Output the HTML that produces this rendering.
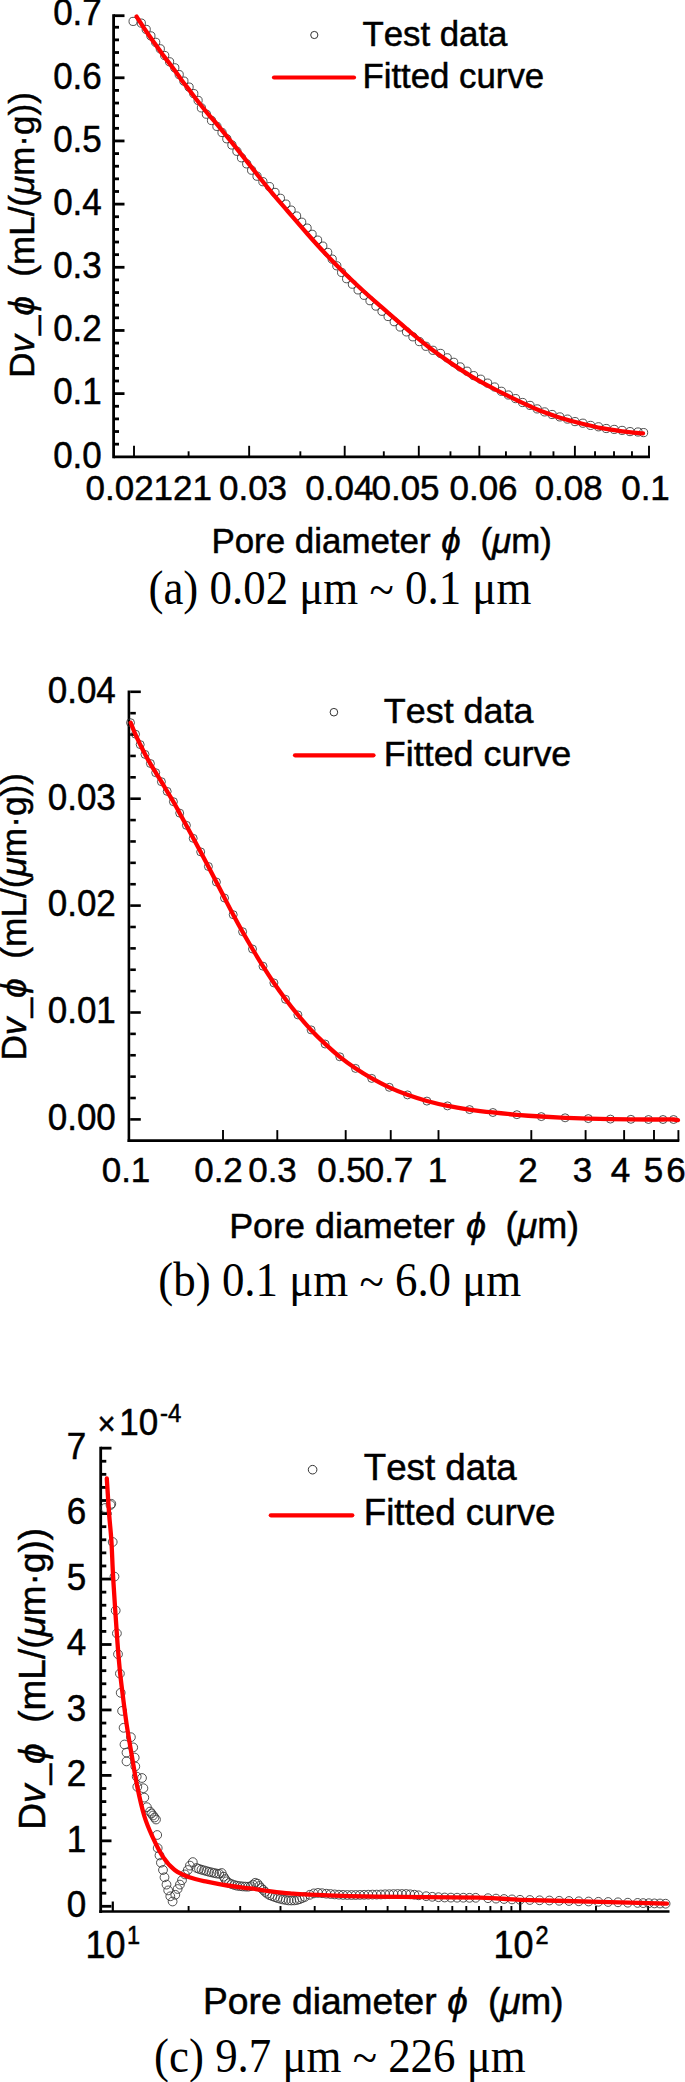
<!DOCTYPE html>
<html lang="en"><head><meta charset="utf-8"><title>Pore size distribution fitting</title>
<style>html,body{margin:0;padding:0;background:#fff}svg{display:block}text{font-kerning:none}</style></head>
<body>
<svg width="685" height="2082" viewBox="0 0 685 2082">
<rect width="685" height="2082" fill="#ffffff"/>
<line x1="113.60" y1="14.30" x2="113.60" y2="458.20" stroke="#000" stroke-width="2.8" stroke-linecap="butt"/>
<line x1="113.60" y1="456.80" x2="650.00" y2="456.80" stroke="#000" stroke-width="2.8" stroke-linecap="butt"/>
<line x1="113.60" y1="444.17" x2="119.00" y2="444.17" stroke="#000" stroke-width="2.8" stroke-linecap="butt"/>
<line x1="113.60" y1="431.53" x2="119.00" y2="431.53" stroke="#000" stroke-width="2.8" stroke-linecap="butt"/>
<line x1="113.60" y1="418.90" x2="119.00" y2="418.90" stroke="#000" stroke-width="2.8" stroke-linecap="butt"/>
<line x1="113.60" y1="406.26" x2="119.00" y2="406.26" stroke="#000" stroke-width="2.8" stroke-linecap="butt"/>
<line x1="113.60" y1="393.63" x2="124.50" y2="393.63" stroke="#000" stroke-width="2.8" stroke-linecap="butt"/>
<line x1="113.60" y1="381.00" x2="119.00" y2="381.00" stroke="#000" stroke-width="2.8" stroke-linecap="butt"/>
<line x1="113.60" y1="368.36" x2="119.00" y2="368.36" stroke="#000" stroke-width="2.8" stroke-linecap="butt"/>
<line x1="113.60" y1="355.73" x2="119.00" y2="355.73" stroke="#000" stroke-width="2.8" stroke-linecap="butt"/>
<line x1="113.60" y1="343.09" x2="119.00" y2="343.09" stroke="#000" stroke-width="2.8" stroke-linecap="butt"/>
<line x1="113.60" y1="330.46" x2="124.50" y2="330.46" stroke="#000" stroke-width="2.8" stroke-linecap="butt"/>
<line x1="113.60" y1="317.83" x2="119.00" y2="317.83" stroke="#000" stroke-width="2.8" stroke-linecap="butt"/>
<line x1="113.60" y1="305.19" x2="119.00" y2="305.19" stroke="#000" stroke-width="2.8" stroke-linecap="butt"/>
<line x1="113.60" y1="292.56" x2="119.00" y2="292.56" stroke="#000" stroke-width="2.8" stroke-linecap="butt"/>
<line x1="113.60" y1="279.92" x2="119.00" y2="279.92" stroke="#000" stroke-width="2.8" stroke-linecap="butt"/>
<line x1="113.60" y1="267.29" x2="124.50" y2="267.29" stroke="#000" stroke-width="2.8" stroke-linecap="butt"/>
<line x1="113.60" y1="254.66" x2="119.00" y2="254.66" stroke="#000" stroke-width="2.8" stroke-linecap="butt"/>
<line x1="113.60" y1="242.02" x2="119.00" y2="242.02" stroke="#000" stroke-width="2.8" stroke-linecap="butt"/>
<line x1="113.60" y1="229.39" x2="119.00" y2="229.39" stroke="#000" stroke-width="2.8" stroke-linecap="butt"/>
<line x1="113.60" y1="216.75" x2="119.00" y2="216.75" stroke="#000" stroke-width="2.8" stroke-linecap="butt"/>
<line x1="113.60" y1="204.12" x2="124.50" y2="204.12" stroke="#000" stroke-width="2.8" stroke-linecap="butt"/>
<line x1="113.60" y1="191.49" x2="119.00" y2="191.49" stroke="#000" stroke-width="2.8" stroke-linecap="butt"/>
<line x1="113.60" y1="178.85" x2="119.00" y2="178.85" stroke="#000" stroke-width="2.8" stroke-linecap="butt"/>
<line x1="113.60" y1="166.22" x2="119.00" y2="166.22" stroke="#000" stroke-width="2.8" stroke-linecap="butt"/>
<line x1="113.60" y1="153.58" x2="119.00" y2="153.58" stroke="#000" stroke-width="2.8" stroke-linecap="butt"/>
<line x1="113.60" y1="140.95" x2="124.50" y2="140.95" stroke="#000" stroke-width="2.8" stroke-linecap="butt"/>
<line x1="113.60" y1="128.32" x2="119.00" y2="128.32" stroke="#000" stroke-width="2.8" stroke-linecap="butt"/>
<line x1="113.60" y1="115.68" x2="119.00" y2="115.68" stroke="#000" stroke-width="2.8" stroke-linecap="butt"/>
<line x1="113.60" y1="103.05" x2="119.00" y2="103.05" stroke="#000" stroke-width="2.8" stroke-linecap="butt"/>
<line x1="113.60" y1="90.41" x2="119.00" y2="90.41" stroke="#000" stroke-width="2.8" stroke-linecap="butt"/>
<line x1="113.60" y1="77.78" x2="124.50" y2="77.78" stroke="#000" stroke-width="2.8" stroke-linecap="butt"/>
<line x1="113.60" y1="65.15" x2="119.00" y2="65.15" stroke="#000" stroke-width="2.8" stroke-linecap="butt"/>
<line x1="113.60" y1="52.51" x2="119.00" y2="52.51" stroke="#000" stroke-width="2.8" stroke-linecap="butt"/>
<line x1="113.60" y1="39.88" x2="119.00" y2="39.88" stroke="#000" stroke-width="2.8" stroke-linecap="butt"/>
<line x1="113.60" y1="27.24" x2="119.00" y2="27.24" stroke="#000" stroke-width="2.8" stroke-linecap="butt"/>
<line x1="113.60" y1="15.70" x2="124.50" y2="15.70" stroke="#000" stroke-width="2.8" stroke-linecap="butt"/>
<text transform="translate(101.80 467.60) scale(1 1.03)" font-family='"Liberation Sans", Arial, Helvetica, sans-serif' font-size="35" text-anchor="end" stroke="#000" stroke-width="0.5" >0.0</text>
<text transform="translate(101.80 404.43) scale(1 1.03)" font-family='"Liberation Sans", Arial, Helvetica, sans-serif' font-size="35" text-anchor="end" stroke="#000" stroke-width="0.5" >0.1</text>
<text transform="translate(101.80 341.26) scale(1 1.03)" font-family='"Liberation Sans", Arial, Helvetica, sans-serif' font-size="35" text-anchor="end" stroke="#000" stroke-width="0.5" >0.2</text>
<text transform="translate(101.80 278.09) scale(1 1.03)" font-family='"Liberation Sans", Arial, Helvetica, sans-serif' font-size="35" text-anchor="end" stroke="#000" stroke-width="0.5" >0.3</text>
<text transform="translate(101.80 214.92) scale(1 1.03)" font-family='"Liberation Sans", Arial, Helvetica, sans-serif' font-size="35" text-anchor="end" stroke="#000" stroke-width="0.5" >0.4</text>
<text transform="translate(101.80 151.75) scale(1 1.03)" font-family='"Liberation Sans", Arial, Helvetica, sans-serif' font-size="35" text-anchor="end" stroke="#000" stroke-width="0.5" >0.5</text>
<text transform="translate(101.80 88.58) scale(1 1.03)" font-family='"Liberation Sans", Arial, Helvetica, sans-serif' font-size="35" text-anchor="end" stroke="#000" stroke-width="0.5" >0.6</text>
<text transform="translate(101.80 25.41) scale(1 1.03)" font-family='"Liberation Sans", Arial, Helvetica, sans-serif' font-size="35" text-anchor="end" stroke="#000" stroke-width="0.5" >0.7</text>
<line x1="134.01" y1="456.80" x2="134.01" y2="445.80" stroke="#000" stroke-width="1.9" stroke-linecap="butt"/>
<line x1="249.15" y1="456.80" x2="249.15" y2="445.80" stroke="#000" stroke-width="1.9" stroke-linecap="butt"/>
<line x1="344.70" y1="456.80" x2="344.70" y2="445.80" stroke="#000" stroke-width="1.9" stroke-linecap="butt"/>
<line x1="418.80" y1="456.80" x2="418.80" y2="445.80" stroke="#000" stroke-width="1.9" stroke-linecap="butt"/>
<line x1="479.35" y1="456.80" x2="479.35" y2="445.80" stroke="#000" stroke-width="1.9" stroke-linecap="butt"/>
<line x1="574.89" y1="456.80" x2="574.89" y2="445.80" stroke="#000" stroke-width="1.9" stroke-linecap="butt"/>
<line x1="649.00" y1="456.80" x2="649.00" y2="445.80" stroke="#000" stroke-width="1.9" stroke-linecap="butt"/>
<line x1="188.60" y1="456.80" x2="188.60" y2="451.30" stroke="#000" stroke-width="1.9" stroke-linecap="butt"/>
<line x1="300.35" y1="456.80" x2="300.35" y2="451.30" stroke="#000" stroke-width="1.9" stroke-linecap="butt"/>
<line x1="383.81" y1="456.80" x2="383.81" y2="451.30" stroke="#000" stroke-width="1.9" stroke-linecap="butt"/>
<line x1="450.46" y1="456.80" x2="450.46" y2="451.30" stroke="#000" stroke-width="1.9" stroke-linecap="butt"/>
<line x1="505.93" y1="456.80" x2="505.93" y2="451.30" stroke="#000" stroke-width="1.9" stroke-linecap="butt"/>
<line x1="530.55" y1="456.80" x2="530.55" y2="451.30" stroke="#000" stroke-width="1.9" stroke-linecap="butt"/>
<line x1="553.46" y1="456.80" x2="553.46" y2="451.30" stroke="#000" stroke-width="1.9" stroke-linecap="butt"/>
<line x1="595.03" y1="456.80" x2="595.03" y2="451.30" stroke="#000" stroke-width="1.9" stroke-linecap="butt"/>
<line x1="614.01" y1="456.80" x2="614.01" y2="451.30" stroke="#000" stroke-width="1.9" stroke-linecap="butt"/>
<line x1="631.97" y1="456.80" x2="631.97" y2="451.30" stroke="#000" stroke-width="1.9" stroke-linecap="butt"/>
<text x="85.50" y="499.80" font-family='"Liberation Sans", Arial, Helvetica, sans-serif' font-size="35" text-anchor="start" stroke="#000" stroke-width="0.5" >0.02121</text>
<text x="253.00" y="499.80" font-family='"Liberation Sans", Arial, Helvetica, sans-serif' font-size="35" text-anchor="middle" stroke="#000" stroke-width="0.5" >0.03</text>
<text x="339.30" y="499.80" font-family='"Liberation Sans", Arial, Helvetica, sans-serif' font-size="35" text-anchor="middle" stroke="#000" stroke-width="0.5" >0.04</text>
<text x="405.50" y="499.80" font-family='"Liberation Sans", Arial, Helvetica, sans-serif' font-size="35" text-anchor="middle" stroke="#000" stroke-width="0.5" >0.05</text>
<text x="483.50" y="499.80" font-family='"Liberation Sans", Arial, Helvetica, sans-serif' font-size="35" text-anchor="middle" stroke="#000" stroke-width="0.5" >0.06</text>
<text x="568.70" y="499.80" font-family='"Liberation Sans", Arial, Helvetica, sans-serif' font-size="35" text-anchor="middle" stroke="#000" stroke-width="0.5" >0.08</text>
<text x="645.50" y="499.80" font-family='"Liberation Sans", Arial, Helvetica, sans-serif' font-size="35" text-anchor="middle" stroke="#000" stroke-width="0.5" >0.1</text>
<text x="211.45" y="552.50" font-family='"Liberation Sans", Arial, Helvetica, sans-serif' font-size="34.9" text-anchor="start" stroke="#000" stroke-width="0.5" >Pore diameter</text>
<text x="441.13" y="552.50" font-family='"Liberation Sans", Arial, Helvetica, sans-serif' font-size="34.8" text-anchor="start" stroke="#000" stroke-width="0.5" font-style="italic">ϕ</text>
<text x="480.48" y="552.50" font-family='"Liberation Sans", Arial, Helvetica, sans-serif' font-size="34.8" text-anchor="start" stroke="#000" stroke-width="0.5" >(<tspan font-style="italic">μ</tspan>m)</text>
<text transform="translate(34.00 235.00) rotate(-90)" font-family='"Liberation Sans", Arial, Helvetica, sans-serif' font-size="35" text-anchor="middle" stroke="#000" stroke-width="0.5" xml:space="preserve">D<tspan font-style="italic">v</tspan>_<tspan font-style="italic">ϕ</tspan>&#160; (mL/(<tspan font-style="italic">μ</tspan>m·g))</text>
<text transform="translate(339.90 603.60) scale(1 1.06)" font-family='"Liberation Serif", "Times New Roman", Times, serif' font-size="44.9" text-anchor="middle" >(a) 0.02 μm <tspan dy="2">~</tspan><tspan dy="-2"> </tspan>0.1 μm</text>
<g fill="none" stroke="#333" stroke-width="0.85"><circle cx="133.1" cy="21.4" r="4.1"/><circle cx="141.3" cy="23.1" r="4.1"/><circle cx="146.2" cy="29.4" r="4.1"/><circle cx="150.9" cy="35.9" r="4.1"/><circle cx="155.7" cy="42.3" r="4.1"/><circle cx="160.3" cy="48.8" r="4.1"/><circle cx="164.7" cy="55.5" r="4.1"/><circle cx="169.6" cy="61.8" r="4.1"/><circle cx="174.8" cy="67.8" r="4.1"/><circle cx="179.2" cy="74.6" r="4.1"/><circle cx="183.9" cy="81.1" r="4.1"/><circle cx="189.1" cy="87.1" r="4.1"/><circle cx="193.8" cy="93.6" r="4.1"/><circle cx="198.1" cy="100.4" r="4.1"/><circle cx="201.4" cy="107.9" r="4.1"/><circle cx="206.4" cy="114.2" r="4.1"/><circle cx="211.5" cy="120.5" r="4.1"/><circle cx="216.9" cy="126.4" r="4.1"/><circle cx="222.0" cy="132.5" r="4.1"/><circle cx="226.8" cy="138.8" r="4.1"/><circle cx="231.9" cy="145.0" r="4.1"/><circle cx="236.9" cy="151.3" r="4.1"/><circle cx="241.5" cy="157.8" r="4.1"/><circle cx="246.7" cy="163.9" r="4.1"/><circle cx="251.6" cy="170.2" r="4.1"/><circle cx="257.0" cy="176.2" r="4.1"/><circle cx="262.9" cy="181.7" r="4.1"/><circle cx="269.5" cy="186.6" r="4.1"/><circle cx="275.0" cy="192.4" r="4.1"/><circle cx="280.4" cy="198.3" r="4.1"/><circle cx="285.9" cy="204.1" r="4.1"/><circle cx="291.1" cy="210.1" r="4.1"/><circle cx="296.6" cy="216.0" r="4.1"/><circle cx="301.7" cy="222.2" r="4.1"/><circle cx="307.1" cy="228.1" r="4.1"/><circle cx="312.1" cy="234.3" r="4.1"/><circle cx="317.6" cy="240.1" r="4.1"/><circle cx="322.8" cy="246.1" r="4.1"/><circle cx="327.7" cy="252.4" r="4.1"/><circle cx="332.2" cy="259.1" r="4.1"/><circle cx="336.8" cy="265.8" r="4.1"/><circle cx="341.6" cy="272.4" r="4.1"/><circle cx="346.6" cy="278.7" r="4.1"/><circle cx="352.4" cy="284.2" r="4.1"/><circle cx="358.1" cy="289.9" r="4.1"/><circle cx="364.1" cy="295.3" r="4.1"/><circle cx="370.0" cy="300.7" r="4.1"/><circle cx="375.9" cy="306.1" r="4.1"/><circle cx="382.0" cy="311.3" r="4.1"/><circle cx="388.1" cy="316.5" r="4.1"/><circle cx="394.2" cy="321.7" r="4.1"/><circle cx="400.2" cy="327.0" r="4.1"/><circle cx="406.5" cy="331.9" r="4.1"/><circle cx="412.9" cy="336.8" r="4.1"/><circle cx="419.4" cy="341.6" r="4.1"/><circle cx="425.9" cy="346.3" r="4.1"/><circle cx="432.9" cy="350.3" r="4.1"/><circle cx="440.5" cy="353.4" r="4.1"/><circle cx="447.2" cy="357.8" r="4.1"/><circle cx="453.7" cy="362.3" r="4.1"/><circle cx="460.2" cy="366.9" r="4.1"/><circle cx="467.0" cy="371.2" r="4.1"/><circle cx="473.6" cy="375.6" r="4.1"/><circle cx="480.7" cy="379.2" r="4.1"/><circle cx="487.6" cy="383.1" r="4.1"/><circle cx="494.6" cy="387.0" r="4.1"/><circle cx="501.4" cy="391.3" r="4.1"/><circle cx="508.4" cy="395.0" r="4.1"/><circle cx="515.6" cy="398.6" r="4.1"/><circle cx="522.6" cy="402.5" r="4.1"/><circle cx="530.0" cy="405.4" r="4.1"/><circle cx="537.2" cy="408.9" r="4.1"/><circle cx="544.6" cy="411.9" r="4.1"/><circle cx="552.1" cy="414.5" r="4.1"/><circle cx="559.8" cy="416.9" r="4.1"/><circle cx="567.5" cy="419.1" r="4.1"/><circle cx="575.0" cy="421.6" r="4.1"/><circle cx="582.9" cy="423.2" r="4.1"/><circle cx="590.6" cy="425.4" r="4.1"/><circle cx="598.5" cy="426.8" r="4.1"/><circle cx="606.2" cy="428.5" r="4.1"/><circle cx="614.2" cy="429.4" r="4.1"/><circle cx="622.1" cy="430.4" r="4.1"/><circle cx="630.0" cy="431.6" r="4.1"/><circle cx="638.0" cy="432.0" r="4.1"/><circle cx="643.6" cy="432.6" r="4.1"/></g>
<path d="M136.60 16.60 C138.22 19.08 143.23 26.97 146.30 31.50 C149.37 36.03 152.08 39.70 155.00 43.80 C157.92 47.90 160.87 52.15 163.80 56.10 C166.73 60.05 169.68 63.57 172.60 67.50 C175.52 71.43 178.38 75.77 181.30 79.70 C184.22 83.63 187.18 87.30 190.10 91.10 C193.02 94.90 195.88 98.78 198.80 102.50 C201.72 106.22 204.48 109.68 207.60 113.40 C210.72 117.12 212.93 119.30 217.50 124.80 C222.07 130.30 229.15 139.08 235.00 146.40 C240.85 153.72 246.75 161.33 252.60 168.70 C258.45 176.07 264.27 183.55 270.10 190.60 C275.93 197.65 281.37 203.77 287.60 211.00 C293.83 218.23 301.27 226.95 307.50 234.00 C313.73 241.05 319.15 247.08 325.00 253.30 C330.85 259.52 336.75 265.52 342.60 271.30 C348.45 277.08 354.27 282.60 360.10 288.00 C365.93 293.40 371.77 298.57 377.60 303.70 C383.43 308.83 389.63 314.05 395.10 318.80 C400.57 323.55 404.43 327.20 410.40 332.20 C416.37 337.20 424.08 343.60 430.90 348.80 C437.72 354.00 444.48 358.77 451.30 363.40 C458.12 368.03 464.98 372.52 471.80 376.60 C478.62 380.68 485.40 384.32 492.20 387.90 C499.00 391.48 506.30 395.03 512.60 398.10 C518.90 401.17 525.37 404.20 530.00 406.30 C534.63 408.40 535.25 408.75 540.40 410.70 C545.55 412.65 554.08 415.87 560.90 418.00 C567.72 420.13 574.48 421.80 581.30 423.50 C588.12 425.20 594.98 426.90 601.80 428.20 C608.62 429.50 615.33 430.43 622.20 431.30 C629.07 432.17 639.53 433.05 643.00 433.40" fill="none" stroke="#ff0000" stroke-width="4.3" stroke-linecap="round" stroke-linejoin="round"/>
<g fill="none" stroke="#333" stroke-width="1.0"><circle cx="314.3" cy="35.0" r="3.6"/></g>
<line x1="274.00" y1="77.50" x2="354.00" y2="77.50" stroke="#ff0000" stroke-width="4.2" stroke-linecap="round"/>
<text x="362.40" y="46.30" font-family='"Liberation Sans", Arial, Helvetica, sans-serif' font-size="34.8" text-anchor="start" stroke="#000" stroke-width="0.5" >Test data</text>
<text x="362.40" y="87.60" font-family='"Liberation Sans", Arial, Helvetica, sans-serif' font-size="34.8" text-anchor="start" stroke="#000" stroke-width="0.5" >Fitted curve</text>
<line x1="128.90" y1="690.40" x2="128.90" y2="1142.00" stroke="#000" stroke-width="2.6" stroke-linecap="butt"/>
<line x1="127.60" y1="1140.60" x2="679.30" y2="1140.60" stroke="#000" stroke-width="2.6" stroke-linecap="butt"/>
<line x1="130.20" y1="1119.40" x2="140.80" y2="1119.40" stroke="#000" stroke-width="2.6" stroke-linecap="butt"/>
<line x1="130.20" y1="1098.02" x2="135.80" y2="1098.02" stroke="#000" stroke-width="2.6" stroke-linecap="butt"/>
<line x1="130.20" y1="1076.64" x2="135.80" y2="1076.64" stroke="#000" stroke-width="2.6" stroke-linecap="butt"/>
<line x1="130.20" y1="1055.26" x2="135.80" y2="1055.26" stroke="#000" stroke-width="2.6" stroke-linecap="butt"/>
<line x1="130.20" y1="1033.88" x2="135.80" y2="1033.88" stroke="#000" stroke-width="2.6" stroke-linecap="butt"/>
<line x1="130.20" y1="1012.50" x2="140.80" y2="1012.50" stroke="#000" stroke-width="2.6" stroke-linecap="butt"/>
<line x1="130.20" y1="991.12" x2="135.80" y2="991.12" stroke="#000" stroke-width="2.6" stroke-linecap="butt"/>
<line x1="130.20" y1="969.74" x2="135.80" y2="969.74" stroke="#000" stroke-width="2.6" stroke-linecap="butt"/>
<line x1="130.20" y1="948.36" x2="135.80" y2="948.36" stroke="#000" stroke-width="2.6" stroke-linecap="butt"/>
<line x1="130.20" y1="926.98" x2="135.80" y2="926.98" stroke="#000" stroke-width="2.6" stroke-linecap="butt"/>
<line x1="130.20" y1="905.60" x2="140.80" y2="905.60" stroke="#000" stroke-width="2.6" stroke-linecap="butt"/>
<line x1="130.20" y1="884.22" x2="135.80" y2="884.22" stroke="#000" stroke-width="2.6" stroke-linecap="butt"/>
<line x1="130.20" y1="862.84" x2="135.80" y2="862.84" stroke="#000" stroke-width="2.6" stroke-linecap="butt"/>
<line x1="130.20" y1="841.46" x2="135.80" y2="841.46" stroke="#000" stroke-width="2.6" stroke-linecap="butt"/>
<line x1="130.20" y1="820.08" x2="135.80" y2="820.08" stroke="#000" stroke-width="2.6" stroke-linecap="butt"/>
<line x1="130.20" y1="798.70" x2="140.80" y2="798.70" stroke="#000" stroke-width="2.6" stroke-linecap="butt"/>
<line x1="130.20" y1="777.32" x2="135.80" y2="777.32" stroke="#000" stroke-width="2.6" stroke-linecap="butt"/>
<line x1="130.20" y1="755.94" x2="135.80" y2="755.94" stroke="#000" stroke-width="2.6" stroke-linecap="butt"/>
<line x1="130.20" y1="734.56" x2="135.80" y2="734.56" stroke="#000" stroke-width="2.6" stroke-linecap="butt"/>
<line x1="130.20" y1="713.18" x2="135.80" y2="713.18" stroke="#000" stroke-width="2.6" stroke-linecap="butt"/>
<line x1="130.20" y1="691.80" x2="140.80" y2="691.80" stroke="#000" stroke-width="2.6" stroke-linecap="butt"/>
<text transform="translate(115.80 1130.20) scale(1 1.06)" font-family='"Liberation Sans", Arial, Helvetica, sans-serif' font-size="35" text-anchor="end" stroke="#000" stroke-width="0.5" >0.00</text>
<text transform="translate(115.80 1023.30) scale(1 1.06)" font-family='"Liberation Sans", Arial, Helvetica, sans-serif' font-size="35" text-anchor="end" stroke="#000" stroke-width="0.5" >0.01</text>
<text transform="translate(115.80 916.40) scale(1 1.06)" font-family='"Liberation Sans", Arial, Helvetica, sans-serif' font-size="35" text-anchor="end" stroke="#000" stroke-width="0.5" >0.02</text>
<text transform="translate(115.80 809.50) scale(1 1.06)" font-family='"Liberation Sans", Arial, Helvetica, sans-serif' font-size="35" text-anchor="end" stroke="#000" stroke-width="0.5" >0.03</text>
<text transform="translate(115.80 702.60) scale(1 1.06)" font-family='"Liberation Sans", Arial, Helvetica, sans-serif' font-size="35" text-anchor="end" stroke="#000" stroke-width="0.5" >0.04</text>
<line x1="223.01" y1="1140.60" x2="223.01" y2="1130.10" stroke="#000" stroke-width="1.9" stroke-linecap="butt"/>
<line x1="277.30" y1="1140.60" x2="277.30" y2="1130.10" stroke="#000" stroke-width="1.9" stroke-linecap="butt"/>
<line x1="345.69" y1="1140.60" x2="345.69" y2="1130.10" stroke="#000" stroke-width="1.9" stroke-linecap="butt"/>
<line x1="390.74" y1="1140.60" x2="390.74" y2="1130.10" stroke="#000" stroke-width="1.9" stroke-linecap="butt"/>
<line x1="438.50" y1="1140.60" x2="438.50" y2="1130.10" stroke="#000" stroke-width="1.9" stroke-linecap="butt"/>
<line x1="531.31" y1="1140.60" x2="531.31" y2="1130.10" stroke="#000" stroke-width="1.9" stroke-linecap="butt"/>
<line x1="585.60" y1="1140.60" x2="585.60" y2="1130.10" stroke="#000" stroke-width="1.9" stroke-linecap="butt"/>
<line x1="624.12" y1="1140.60" x2="624.12" y2="1130.10" stroke="#000" stroke-width="1.9" stroke-linecap="butt"/>
<line x1="653.99" y1="1140.60" x2="653.99" y2="1130.10" stroke="#000" stroke-width="1.9" stroke-linecap="butt"/>
<line x1="678.40" y1="1140.60" x2="678.40" y2="1130.10" stroke="#000" stroke-width="1.9" stroke-linecap="butt"/>
<text x="126.00" y="1181.80" font-family='"Liberation Sans", Arial, Helvetica, sans-serif' font-size="35" text-anchor="middle" stroke="#000" stroke-width="0.5" >0.1</text>
<text x="218.50" y="1181.80" font-family='"Liberation Sans", Arial, Helvetica, sans-serif' font-size="35" text-anchor="middle" stroke="#000" stroke-width="0.5" >0.2</text>
<text x="272.50" y="1181.80" font-family='"Liberation Sans", Arial, Helvetica, sans-serif' font-size="35" text-anchor="middle" stroke="#000" stroke-width="0.5" >0.3</text>
<text x="341.50" y="1181.80" font-family='"Liberation Sans", Arial, Helvetica, sans-serif' font-size="35" text-anchor="middle" stroke="#000" stroke-width="0.5" >0.5</text>
<text x="389.00" y="1181.80" font-family='"Liberation Sans", Arial, Helvetica, sans-serif' font-size="35" text-anchor="middle" stroke="#000" stroke-width="0.5" >0.7</text>
<text x="437.50" y="1181.80" font-family='"Liberation Sans", Arial, Helvetica, sans-serif' font-size="35" text-anchor="middle" stroke="#000" stroke-width="0.5" >1</text>
<text x="528.00" y="1181.80" font-family='"Liberation Sans", Arial, Helvetica, sans-serif' font-size="35" text-anchor="middle" stroke="#000" stroke-width="0.5" >2</text>
<text x="582.50" y="1181.80" font-family='"Liberation Sans", Arial, Helvetica, sans-serif' font-size="35" text-anchor="middle" stroke="#000" stroke-width="0.5" >3</text>
<text x="620.50" y="1181.80" font-family='"Liberation Sans", Arial, Helvetica, sans-serif' font-size="35" text-anchor="middle" stroke="#000" stroke-width="0.5" >4</text>
<text x="653.50" y="1181.80" font-family='"Liberation Sans", Arial, Helvetica, sans-serif' font-size="35" text-anchor="middle" stroke="#000" stroke-width="0.5" >5</text>
<text x="676.00" y="1181.80" font-family='"Liberation Sans", Arial, Helvetica, sans-serif' font-size="35" text-anchor="middle" stroke="#000" stroke-width="0.5" >6</text>
<text x="229.17" y="1237.60" font-family='"Liberation Sans", Arial, Helvetica, sans-serif' font-size="35.9" text-anchor="start" stroke="#000" stroke-width="0.5" >Pore diameter</text>
<text x="465.98" y="1237.60" font-family='"Liberation Sans", Arial, Helvetica, sans-serif' font-size="36" text-anchor="start" stroke="#000" stroke-width="0.5" font-style="italic">ϕ</text>
<text x="505.40" y="1237.60" font-family='"Liberation Sans", Arial, Helvetica, sans-serif' font-size="36" text-anchor="start" stroke="#000" stroke-width="0.5" >(<tspan font-style="italic">μ</tspan>m)</text>
<text transform="translate(26.40 916.80) rotate(-90)" font-family='"Liberation Sans", Arial, Helvetica, sans-serif' font-size="35.25" text-anchor="middle" stroke="#000" stroke-width="0.5" xml:space="preserve">D<tspan font-style="italic">v</tspan>_<tspan font-style="italic">ϕ</tspan>&#160; (mL/(<tspan font-style="italic">μ</tspan>m·g))</text>
<text transform="translate(339.80 1295.60) scale(1 1.06)" font-family='"Liberation Serif", "Times New Roman", Times, serif' font-size="44.9" text-anchor="middle" >(b) 0.1 μm <tspan dy="2">~</tspan><tspan dy="-2"> </tspan>6.0 μm</text>
<g fill="none" stroke="#333" stroke-width="0.85"><circle cx="130.5" cy="722.7" r="4.0"/><circle cx="135.5" cy="734.2" r="4.0"/><circle cx="140.2" cy="744.6" r="4.0"/><circle cx="145.0" cy="754.4" r="4.0"/><circle cx="150.4" cy="763.5" r="4.0"/><circle cx="155.7" cy="772.7" r="4.0"/><circle cx="161.4" cy="781.7" r="4.0"/><circle cx="167.2" cy="791.4" r="4.0"/><circle cx="173.4" cy="801.7" r="4.0"/><circle cx="179.7" cy="813.1" r="4.0"/><circle cx="186.4" cy="825.3" r="4.0"/><circle cx="193.2" cy="838.3" r="4.0"/><circle cx="200.7" cy="851.9" r="4.0"/><circle cx="208.4" cy="866.5" r="4.0"/><circle cx="216.4" cy="882.0" r="4.0"/><circle cx="224.5" cy="898.0" r="4.0"/><circle cx="233.2" cy="914.7" r="4.0"/><circle cx="242.6" cy="931.7" r="4.0"/><circle cx="252.5" cy="949.0" r="4.0"/><circle cx="263.0" cy="966.2" r="4.0"/><circle cx="273.9" cy="982.9" r="4.0"/><circle cx="285.5" cy="999.3" r="4.0"/><circle cx="297.9" cy="1014.9" r="4.0"/><circle cx="311.1" cy="1029.9" r="4.0"/><circle cx="325.1" cy="1044.0" r="4.0"/><circle cx="339.8" cy="1056.8" r="4.0"/><circle cx="355.5" cy="1068.4" r="4.0"/><circle cx="371.7" cy="1078.4" r="4.0"/><circle cx="389.3" cy="1087.3" r="4.0"/><circle cx="407.5" cy="1094.9" r="4.0"/><circle cx="426.9" cy="1101.1" r="4.0"/><circle cx="447.5" cy="1105.9" r="4.0"/><circle cx="469.6" cy="1109.6" r="4.0"/><circle cx="492.9" cy="1112.5" r="4.0"/><circle cx="516.9" cy="1114.7" r="4.0"/><circle cx="541.3" cy="1116.6" r="4.0"/><circle cx="565.1" cy="1117.8" r="4.0"/><circle cx="588.3" cy="1118.6" r="4.0"/><circle cx="610.4" cy="1119.1" r="4.0"/><circle cx="630.9" cy="1119.3" r="4.0"/><circle cx="648.5" cy="1119.5" r="4.0"/><circle cx="663.0" cy="1119.5" r="4.0"/><circle cx="673.6" cy="1119.5" r="4.0"/></g>
<path d="M130.70 722.70 C131.47 724.61 133.75 730.55 135.33 734.19 C136.91 737.83 138.54 741.16 140.18 744.53 C141.83 747.90 143.51 751.22 145.19 754.40 C146.87 757.57 148.50 760.53 150.26 763.56 C152.02 766.60 153.88 769.57 155.75 772.60 C157.62 775.63 159.59 778.64 161.49 781.77 C163.38 784.90 165.15 788.07 167.13 791.40 C169.12 794.73 171.29 798.12 173.38 801.74 C175.47 805.37 177.54 809.24 179.69 813.17 C181.83 817.09 183.98 821.12 186.24 825.29 C188.51 829.46 190.87 833.76 193.27 838.20 C195.68 842.65 198.17 847.26 200.68 851.98 C203.18 856.69 205.70 861.52 208.31 866.51 C210.92 871.50 213.63 876.68 216.34 881.94 C219.05 887.20 221.76 892.62 224.57 898.08 C227.38 903.54 230.23 909.10 233.22 914.72 C236.21 920.34 239.32 926.07 242.53 931.78 C245.74 937.49 249.08 943.25 252.49 948.98 C255.89 954.71 259.37 960.51 262.94 966.18 C266.51 971.84 270.15 977.46 273.91 982.96 C277.68 988.47 281.56 993.88 285.55 999.21 C289.55 1004.55 293.64 1009.84 297.89 1014.96 C302.14 1020.08 306.51 1025.10 311.05 1029.93 C315.60 1034.76 320.35 1039.43 325.15 1043.93 C329.94 1048.42 334.77 1052.82 339.82 1056.89 C344.87 1060.96 350.08 1064.73 355.42 1068.33 C360.77 1071.92 366.25 1075.30 371.88 1078.47 C377.51 1081.64 383.27 1084.63 389.20 1087.35 C395.13 1090.08 401.19 1092.55 407.48 1094.83 C413.77 1097.11 420.25 1099.18 426.93 1101.02 C433.60 1102.87 440.42 1104.48 447.54 1105.91 C454.65 1107.33 462.05 1108.48 469.61 1109.58 C477.18 1110.67 485.01 1111.60 492.91 1112.47 C500.81 1113.34 508.97 1114.11 517.01 1114.79 C525.06 1115.46 533.18 1116.02 541.19 1116.52 C549.20 1117.02 557.20 1117.45 565.07 1117.80 C572.93 1118.15 580.82 1118.41 588.38 1118.62 C595.94 1118.83 603.34 1118.93 610.42 1119.05 C617.49 1119.17 624.49 1119.26 630.83 1119.33 C637.17 1119.41 643.11 1119.46 648.45 1119.49 C653.80 1119.51 658.72 1119.49 662.90 1119.49 C667.09 1119.49 671.06 1119.37 673.58 1119.49 C676.10 1119.60 677.26 1120.08 678.00 1120.20" fill="none" stroke="#ff0000" stroke-width="4.3" stroke-linecap="round" stroke-linejoin="round"/>
<g fill="none" stroke="#333" stroke-width="1.0"><circle cx="333.9" cy="712.2" r="3.8"/></g>
<line x1="295.00" y1="755.30" x2="373.50" y2="755.30" stroke="#ff0000" stroke-width="4.2" stroke-linecap="round"/>
<text x="383.80" y="723.30" font-family='"Liberation Sans", Arial, Helvetica, sans-serif' font-size="35.9" text-anchor="start" stroke="#000" stroke-width="0.5" >Test data</text>
<text x="383.80" y="766.00" font-family='"Liberation Sans", Arial, Helvetica, sans-serif' font-size="35.9" text-anchor="start" stroke="#000" stroke-width="0.5" >Fitted curve</text>
<line x1="100.70" y1="1446.80" x2="100.70" y2="1912.90" stroke="#000" stroke-width="2.8" stroke-linecap="butt"/>
<line x1="99.30" y1="1911.50" x2="669.50" y2="1911.50" stroke="#000" stroke-width="2.3" stroke-linecap="butt"/>
<line x1="100.70" y1="1906.30" x2="111.50" y2="1906.30" stroke="#000" stroke-width="2.8" stroke-linecap="butt"/>
<line x1="100.70" y1="1893.21" x2="106.30" y2="1893.21" stroke="#000" stroke-width="2.8" stroke-linecap="butt"/>
<line x1="100.70" y1="1880.12" x2="106.30" y2="1880.12" stroke="#000" stroke-width="2.8" stroke-linecap="butt"/>
<line x1="100.70" y1="1867.03" x2="106.30" y2="1867.03" stroke="#000" stroke-width="2.8" stroke-linecap="butt"/>
<line x1="100.70" y1="1853.94" x2="106.30" y2="1853.94" stroke="#000" stroke-width="2.8" stroke-linecap="butt"/>
<line x1="100.70" y1="1840.85" x2="111.50" y2="1840.85" stroke="#000" stroke-width="2.8" stroke-linecap="butt"/>
<line x1="100.70" y1="1827.76" x2="106.30" y2="1827.76" stroke="#000" stroke-width="2.8" stroke-linecap="butt"/>
<line x1="100.70" y1="1814.67" x2="106.30" y2="1814.67" stroke="#000" stroke-width="2.8" stroke-linecap="butt"/>
<line x1="100.70" y1="1801.58" x2="106.30" y2="1801.58" stroke="#000" stroke-width="2.8" stroke-linecap="butt"/>
<line x1="100.70" y1="1788.49" x2="106.30" y2="1788.49" stroke="#000" stroke-width="2.8" stroke-linecap="butt"/>
<line x1="100.70" y1="1775.40" x2="111.50" y2="1775.40" stroke="#000" stroke-width="2.8" stroke-linecap="butt"/>
<line x1="100.70" y1="1762.31" x2="106.30" y2="1762.31" stroke="#000" stroke-width="2.8" stroke-linecap="butt"/>
<line x1="100.70" y1="1749.22" x2="106.30" y2="1749.22" stroke="#000" stroke-width="2.8" stroke-linecap="butt"/>
<line x1="100.70" y1="1736.13" x2="106.30" y2="1736.13" stroke="#000" stroke-width="2.8" stroke-linecap="butt"/>
<line x1="100.70" y1="1723.04" x2="106.30" y2="1723.04" stroke="#000" stroke-width="2.8" stroke-linecap="butt"/>
<line x1="100.70" y1="1709.95" x2="111.50" y2="1709.95" stroke="#000" stroke-width="2.8" stroke-linecap="butt"/>
<line x1="100.70" y1="1696.86" x2="106.30" y2="1696.86" stroke="#000" stroke-width="2.8" stroke-linecap="butt"/>
<line x1="100.70" y1="1683.77" x2="106.30" y2="1683.77" stroke="#000" stroke-width="2.8" stroke-linecap="butt"/>
<line x1="100.70" y1="1670.68" x2="106.30" y2="1670.68" stroke="#000" stroke-width="2.8" stroke-linecap="butt"/>
<line x1="100.70" y1="1657.59" x2="106.30" y2="1657.59" stroke="#000" stroke-width="2.8" stroke-linecap="butt"/>
<line x1="100.70" y1="1644.50" x2="111.50" y2="1644.50" stroke="#000" stroke-width="2.8" stroke-linecap="butt"/>
<line x1="100.70" y1="1631.41" x2="106.30" y2="1631.41" stroke="#000" stroke-width="2.8" stroke-linecap="butt"/>
<line x1="100.70" y1="1618.32" x2="106.30" y2="1618.32" stroke="#000" stroke-width="2.8" stroke-linecap="butt"/>
<line x1="100.70" y1="1605.23" x2="106.30" y2="1605.23" stroke="#000" stroke-width="2.8" stroke-linecap="butt"/>
<line x1="100.70" y1="1592.14" x2="106.30" y2="1592.14" stroke="#000" stroke-width="2.8" stroke-linecap="butt"/>
<line x1="100.70" y1="1579.05" x2="111.50" y2="1579.05" stroke="#000" stroke-width="2.8" stroke-linecap="butt"/>
<line x1="100.70" y1="1565.96" x2="106.30" y2="1565.96" stroke="#000" stroke-width="2.8" stroke-linecap="butt"/>
<line x1="100.70" y1="1552.87" x2="106.30" y2="1552.87" stroke="#000" stroke-width="2.8" stroke-linecap="butt"/>
<line x1="100.70" y1="1539.78" x2="106.30" y2="1539.78" stroke="#000" stroke-width="2.8" stroke-linecap="butt"/>
<line x1="100.70" y1="1526.69" x2="106.30" y2="1526.69" stroke="#000" stroke-width="2.8" stroke-linecap="butt"/>
<line x1="100.70" y1="1513.60" x2="111.50" y2="1513.60" stroke="#000" stroke-width="2.8" stroke-linecap="butt"/>
<line x1="100.70" y1="1500.51" x2="106.30" y2="1500.51" stroke="#000" stroke-width="2.8" stroke-linecap="butt"/>
<line x1="100.70" y1="1487.42" x2="106.30" y2="1487.42" stroke="#000" stroke-width="2.8" stroke-linecap="butt"/>
<line x1="100.70" y1="1474.33" x2="106.30" y2="1474.33" stroke="#000" stroke-width="2.8" stroke-linecap="butt"/>
<line x1="100.70" y1="1461.24" x2="106.30" y2="1461.24" stroke="#000" stroke-width="2.8" stroke-linecap="butt"/>
<line x1="100.70" y1="1448.15" x2="111.50" y2="1448.15" stroke="#000" stroke-width="2.8" stroke-linecap="butt"/>
<text transform="translate(86.30 1917.10) scale(1 1.06)" font-family='"Liberation Sans", Arial, Helvetica, sans-serif' font-size="35" text-anchor="end" stroke="#000" stroke-width="0.5" >0</text>
<text transform="translate(86.30 1851.65) scale(1 1.06)" font-family='"Liberation Sans", Arial, Helvetica, sans-serif' font-size="35" text-anchor="end" stroke="#000" stroke-width="0.5" >1</text>
<text transform="translate(86.30 1786.20) scale(1 1.06)" font-family='"Liberation Sans", Arial, Helvetica, sans-serif' font-size="35" text-anchor="end" stroke="#000" stroke-width="0.5" >2</text>
<text transform="translate(86.30 1720.75) scale(1 1.06)" font-family='"Liberation Sans", Arial, Helvetica, sans-serif' font-size="35" text-anchor="end" stroke="#000" stroke-width="0.5" >3</text>
<text transform="translate(86.30 1655.30) scale(1 1.06)" font-family='"Liberation Sans", Arial, Helvetica, sans-serif' font-size="35" text-anchor="end" stroke="#000" stroke-width="0.5" >4</text>
<text transform="translate(86.30 1589.85) scale(1 1.06)" font-family='"Liberation Sans", Arial, Helvetica, sans-serif' font-size="35" text-anchor="end" stroke="#000" stroke-width="0.5" >5</text>
<text transform="translate(86.30 1524.40) scale(1 1.06)" font-family='"Liberation Sans", Arial, Helvetica, sans-serif' font-size="35" text-anchor="end" stroke="#000" stroke-width="0.5" >6</text>
<text transform="translate(86.30 1458.95) scale(1 1.06)" font-family='"Liberation Sans", Arial, Helvetica, sans-serif' font-size="35" text-anchor="end" stroke="#000" stroke-width="0.5" >7</text>
<line x1="112.80" y1="1911.50" x2="112.80" y2="1901.50" stroke="#000" stroke-width="2.2" stroke-linecap="butt"/>
<line x1="520.20" y1="1911.50" x2="520.20" y2="1901.50" stroke="#000" stroke-width="2.2" stroke-linecap="butt"/>
<line x1="188.60" y1="1911.50" x2="188.60" y2="1906.00" stroke="#000" stroke-width="1.9" stroke-linecap="butt"/>
<line x1="240.20" y1="1911.50" x2="240.20" y2="1906.00" stroke="#000" stroke-width="1.9" stroke-linecap="butt"/>
<line x1="280.50" y1="1911.50" x2="280.50" y2="1906.00" stroke="#000" stroke-width="1.9" stroke-linecap="butt"/>
<line x1="314.70" y1="1911.50" x2="314.70" y2="1906.00" stroke="#000" stroke-width="1.9" stroke-linecap="butt"/>
<line x1="341.90" y1="1911.50" x2="341.90" y2="1906.00" stroke="#000" stroke-width="1.9" stroke-linecap="butt"/>
<line x1="366.00" y1="1911.50" x2="366.00" y2="1906.00" stroke="#000" stroke-width="1.9" stroke-linecap="butt"/>
<line x1="387.60" y1="1911.50" x2="387.60" y2="1906.00" stroke="#000" stroke-width="1.9" stroke-linecap="butt"/>
<line x1="405.40" y1="1911.50" x2="405.40" y2="1906.00" stroke="#000" stroke-width="1.9" stroke-linecap="butt"/>
<line x1="422.50" y1="1911.50" x2="422.50" y2="1906.00" stroke="#000" stroke-width="1.9" stroke-linecap="butt"/>
<line x1="438.30" y1="1911.50" x2="438.30" y2="1906.00" stroke="#000" stroke-width="1.9" stroke-linecap="butt"/>
<line x1="452.30" y1="1911.50" x2="452.30" y2="1906.00" stroke="#000" stroke-width="1.9" stroke-linecap="butt"/>
<line x1="466.30" y1="1911.50" x2="466.30" y2="1906.00" stroke="#000" stroke-width="1.9" stroke-linecap="butt"/>
<line x1="479.00" y1="1911.50" x2="479.00" y2="1906.00" stroke="#000" stroke-width="1.9" stroke-linecap="butt"/>
<line x1="490.40" y1="1911.50" x2="490.40" y2="1906.00" stroke="#000" stroke-width="1.9" stroke-linecap="butt"/>
<line x1="501.30" y1="1911.50" x2="501.30" y2="1906.00" stroke="#000" stroke-width="1.9" stroke-linecap="butt"/>
<line x1="511.40" y1="1911.50" x2="511.40" y2="1906.00" stroke="#000" stroke-width="1.9" stroke-linecap="butt"/>
<line x1="596.00" y1="1911.50" x2="596.00" y2="1906.00" stroke="#000" stroke-width="1.9" stroke-linecap="butt"/>
<line x1="648.10" y1="1911.50" x2="648.10" y2="1906.00" stroke="#000" stroke-width="1.9" stroke-linecap="butt"/>
<text transform="translate(85.6 1958) scale(1 1.06)" stroke="#000" stroke-width="0.5" font-family='"Liberation Sans", Arial, Helvetica, sans-serif' font-size="36">10<tspan dx="1.5" dy="-13.2" font-size="23.5">1</tspan></text>
<text transform="translate(493.6 1958) scale(1 1.06)" stroke="#000" stroke-width="0.5" font-family='"Liberation Sans", Arial, Helvetica, sans-serif' font-size="36">10<tspan dx="1.8" dy="-13.2" font-size="23.5">2</tspan></text>
<text transform="translate(0 1435.4) scale(1 1.08)" stroke="#000" stroke-width="0.5" font-family='"Liberation Sans", Arial, Helvetica, sans-serif' font-size="35"><tspan x="97.6" font-size="31">×</tspan><tspan x="119.2">10</tspan><tspan dx="1.8" dy="-12.8" font-size="24">-4</tspan></text>
<text x="203.07" y="2014.40" font-family='"Liberation Sans", Arial, Helvetica, sans-serif' font-size="37.2" text-anchor="start" stroke="#000" stroke-width="0.5" >Pore diameter</text>
<text x="447.14" y="2014.40" font-family='"Liberation Sans", Arial, Helvetica, sans-serif' font-size="36.9" text-anchor="start" stroke="#000" stroke-width="0.5" font-style="italic">ϕ</text>
<text x="487.95" y="2014.40" font-family='"Liberation Sans", Arial, Helvetica, sans-serif' font-size="36.9" text-anchor="start" stroke="#000" stroke-width="0.5" >(<tspan font-style="italic">μ</tspan>m)</text>
<text transform="translate(45.30 1678.80) rotate(-90)" font-family='"Liberation Sans", Arial, Helvetica, sans-serif' font-size="37" text-anchor="middle" stroke="#000" stroke-width="0.5" xml:space="preserve">D<tspan font-style="italic">v</tspan>_<tspan font-style="italic">ϕ</tspan>&#160; (mL/(<tspan font-style="italic">μ</tspan>m·g))</text>
<text transform="translate(339.90 2072.30) scale(1 1.06)" font-family='"Liberation Serif", "Times New Roman", Times, serif' font-size="44.9" text-anchor="middle" >(c) 9.7 μm <tspan dy="2">~</tspan><tspan dy="-2"> </tspan>226 μm</text>
<g fill="none" stroke="#333" stroke-width="0.85"><circle cx="111.3" cy="1503.8" r="4.4"/><circle cx="110.5" cy="1505.0" r="4.4"/><circle cx="105.2" cy="1508.0" r="4.4"/><circle cx="112.7" cy="1542.0" r="4.4"/><circle cx="114.5" cy="1576.6" r="4.4"/><circle cx="115.7" cy="1610.5" r="4.4"/><circle cx="116.9" cy="1633.4" r="4.4"/><circle cx="118.0" cy="1654.2" r="4.4"/><circle cx="119.9" cy="1673.6" r="4.4"/><circle cx="120.7" cy="1692.8" r="4.4"/><circle cx="122.1" cy="1710.9" r="4.4"/><circle cx="123.6" cy="1727.8" r="4.4"/><circle cx="124.5" cy="1744.5" r="4.4"/><circle cx="126.5" cy="1752.6" r="4.4"/><circle cx="126.5" cy="1761.4" r="4.4"/><circle cx="130.9" cy="1737.2" r="4.4"/><circle cx="133.2" cy="1747.4" r="4.4"/><circle cx="134.7" cy="1757.6" r="4.4"/><circle cx="135.3" cy="1766.4" r="4.4"/><circle cx="136.7" cy="1776.6" r="4.4"/><circle cx="137.3" cy="1786.8" r="4.4"/><circle cx="142.0" cy="1778.0" r="4.4"/><circle cx="143.4" cy="1788.2" r="4.4"/><circle cx="144.3" cy="1797.6" r="4.4"/><circle cx="146.9" cy="1807.2" r="4.4"/><circle cx="150.0" cy="1811.6" r="4.4"/><circle cx="151.5" cy="1813.5" r="4.4"/><circle cx="153.0" cy="1815.5" r="4.4"/><circle cx="154.5" cy="1817.5" r="4.4"/><circle cx="156.0" cy="1819.5" r="4.4"/><circle cx="157.2" cy="1835.0" r="4.4"/><circle cx="157.7" cy="1848.1" r="4.4"/><circle cx="159.5" cy="1855.4" r="4.4"/><circle cx="160.9" cy="1862.7" r="4.4"/><circle cx="163.0" cy="1870.0" r="4.4"/><circle cx="164.5" cy="1877.3" r="4.4"/><circle cx="166.5" cy="1884.6" r="4.4"/><circle cx="168.2" cy="1890.4" r="4.4"/><circle cx="170.3" cy="1896.3" r="4.4"/><circle cx="172.6" cy="1901.5" r="4.4"/><circle cx="175.3" cy="1894.8" r="4.4"/><circle cx="177.6" cy="1889.0" r="4.4"/><circle cx="179.9" cy="1884.6" r="4.4"/><circle cx="182.0" cy="1880.2" r="4.4"/><circle cx="184.9" cy="1874.4" r="4.4"/><circle cx="187.8" cy="1870.0" r="4.4"/><circle cx="189.9" cy="1865.6" r="4.4"/><circle cx="192.8" cy="1862.1" r="4.4"/><circle cx="196.6" cy="1868.0" r="4.4"/><circle cx="199.0" cy="1868.9" r="4.4"/><circle cx="201.5" cy="1869.7" r="4.4"/><circle cx="204.0" cy="1870.4" r="4.4"/><circle cx="206.5" cy="1871.1" r="4.4"/><circle cx="209.0" cy="1871.8" r="4.4"/><circle cx="211.6" cy="1872.4" r="4.4"/><circle cx="214.1" cy="1873.0" r="4.4"/><circle cx="216.6" cy="1873.5" r="4.4"/><circle cx="219.2" cy="1873.8" r="4.4"/><circle cx="221.7" cy="1873.0" r="4.4"/><circle cx="223.7" cy="1876.7" r="4.4"/><circle cx="225.1" cy="1879.1" r="4.4"/><circle cx="226.8" cy="1881.3" r="4.4"/><circle cx="229.1" cy="1883.0" r="4.4"/><circle cx="231.6" cy="1884.1" r="4.4"/><circle cx="234.3" cy="1885.0" r="4.4"/><circle cx="237.0" cy="1885.7" r="4.4"/><circle cx="239.8" cy="1886.1" r="4.4"/><circle cx="242.6" cy="1886.4" r="4.4"/><circle cx="245.3" cy="1886.6" r="4.4"/><circle cx="248.1" cy="1886.7" r="4.4"/><circle cx="250.9" cy="1886.2" r="4.4"/><circle cx="253.1" cy="1884.6" r="4.4"/><circle cx="255.2" cy="1882.8" r="4.4"/><circle cx="257.6" cy="1883.7" r="4.4"/><circle cx="259.3" cy="1886.0" r="4.4"/><circle cx="261.2" cy="1888.0" r="4.4"/><circle cx="263.2" cy="1889.9" r="4.4"/><circle cx="265.2" cy="1891.9" r="4.4"/><circle cx="267.3" cy="1893.7" r="4.4"/><circle cx="269.7" cy="1895.2" r="4.4"/><circle cx="272.3" cy="1896.2" r="4.4"/><circle cx="275.0" cy="1897.2" r="4.4"/><circle cx="277.6" cy="1898.1" r="4.4"/><circle cx="280.3" cy="1898.8" r="4.4"/><circle cx="283.0" cy="1899.5" r="4.4"/><circle cx="285.8" cy="1900.0" r="4.4"/><circle cx="288.6" cy="1900.4" r="4.4"/><circle cx="291.3" cy="1900.5" r="4.4"/><circle cx="294.1" cy="1900.4" r="4.4"/><circle cx="296.9" cy="1900.0" r="4.4"/><circle cx="299.6" cy="1899.2" r="4.4"/><circle cx="302.2" cy="1898.1" r="4.4"/><circle cx="304.8" cy="1897.0" r="4.4"/><circle cx="309.8" cy="1894.8" r="4.4"/><circle cx="313.8" cy="1893.4" r="4.4"/><circle cx="318.0" cy="1892.9" r="4.4"/><circle cx="322.1" cy="1893.2" r="4.4"/><circle cx="326.3" cy="1893.7" r="4.4"/><circle cx="330.5" cy="1894.0" r="4.4"/><circle cx="334.7" cy="1894.4" r="4.4"/><circle cx="338.9" cy="1894.7" r="4.4"/><circle cx="343.1" cy="1894.9" r="4.4"/><circle cx="347.3" cy="1895.0" r="4.4"/><circle cx="351.5" cy="1895.0" r="4.4"/><circle cx="355.7" cy="1895.0" r="4.4"/><circle cx="359.9" cy="1894.9" r="4.4"/><circle cx="364.1" cy="1894.8" r="4.4"/><circle cx="368.3" cy="1894.7" r="4.4"/><circle cx="372.5" cy="1894.6" r="4.4"/><circle cx="376.7" cy="1894.6" r="4.4"/><circle cx="380.9" cy="1894.5" r="4.4"/><circle cx="385.1" cy="1894.3" r="4.4"/><circle cx="389.3" cy="1894.2" r="4.4"/><circle cx="393.5" cy="1894.1" r="4.4"/><circle cx="397.7" cy="1894.0" r="4.4"/><circle cx="401.9" cy="1894.0" r="4.4"/><circle cx="406.1" cy="1894.0" r="4.4"/><circle cx="410.2" cy="1894.3" r="4.4"/><circle cx="414.4" cy="1894.7" r="4.4"/><circle cx="418.6" cy="1895.3" r="4.4"/><circle cx="426.2" cy="1896.2" r="4.4"/><circle cx="432.3" cy="1896.8" r="4.4"/><circle cx="438.5" cy="1897.2" r="4.4"/><circle cx="444.7" cy="1897.5" r="4.4"/><circle cx="450.9" cy="1897.6" r="4.4"/><circle cx="457.1" cy="1897.7" r="4.4"/><circle cx="463.3" cy="1897.7" r="4.4"/><circle cx="469.5" cy="1897.8" r="4.4"/><circle cx="475.7" cy="1897.8" r="4.4"/><circle cx="488.0" cy="1898.2" r="4.4"/><circle cx="496.0" cy="1898.6" r="4.4"/><circle cx="504.0" cy="1899.0" r="4.4"/><circle cx="512.0" cy="1899.4" r="4.4"/><circle cx="520.0" cy="1899.8" r="4.4"/><circle cx="529.8" cy="1900.0" r="4.4"/><circle cx="539.6" cy="1900.3" r="4.4"/><circle cx="549.4" cy="1900.5" r="4.4"/><circle cx="559.2" cy="1900.8" r="4.4"/><circle cx="569.0" cy="1901.0" r="4.4"/><circle cx="578.8" cy="1901.3" r="4.4"/><circle cx="588.6" cy="1901.5" r="4.4"/><circle cx="598.4" cy="1901.8" r="4.4"/><circle cx="608.2" cy="1902.0" r="4.4"/><circle cx="618.0" cy="1902.3" r="4.4"/><circle cx="627.8" cy="1902.7" r="4.4"/><circle cx="637.6" cy="1902.9" r="4.4"/><circle cx="643.2" cy="1903.1" r="4.4"/><circle cx="648.8" cy="1903.2" r="4.4"/><circle cx="654.4" cy="1903.4" r="4.4"/><circle cx="660.0" cy="1903.5" r="4.4"/><circle cx="665.6" cy="1903.7" r="4.4"/></g>
<path d="M106.80 1478.50 C107.20 1484.58 108.43 1504.60 109.20 1515.00 C109.97 1525.40 110.70 1529.78 111.40 1540.90 C112.10 1552.02 112.38 1564.68 113.40 1581.70 C114.42 1598.72 116.43 1628.28 117.50 1643.00 C118.57 1657.72 118.95 1661.50 119.80 1670.00 C120.65 1678.50 121.45 1684.87 122.60 1694.00 C123.75 1703.13 125.17 1714.55 126.70 1724.80 C128.23 1735.05 130.03 1745.17 131.80 1755.50 C133.57 1765.83 135.22 1776.72 137.30 1786.80 C139.38 1796.88 141.80 1807.73 144.30 1816.00 C146.80 1824.27 149.18 1829.58 152.30 1836.40 C155.42 1843.22 159.27 1851.30 163.00 1856.90 C166.73 1862.50 170.32 1866.60 174.70 1870.00 C179.08 1873.40 183.95 1875.35 189.30 1877.30 C194.65 1879.25 200.48 1880.33 206.80 1881.70 C213.12 1883.07 219.90 1884.38 227.20 1885.50 C234.50 1886.62 243.30 1887.43 250.60 1888.40 C257.90 1889.37 264.43 1890.47 271.00 1891.30 C277.57 1892.13 283.50 1892.85 290.00 1893.40 C296.50 1893.95 295.50 1894.05 310.00 1894.60 C324.50 1895.15 348.67 1896.20 377.00 1896.70 C405.33 1897.20 456.17 1897.08 480.00 1897.60 C503.83 1898.12 500.00 1899.10 520.00 1899.80 C540.00 1900.50 575.50 1901.15 600.00 1901.80 C624.50 1902.45 655.83 1903.38 667.00 1903.70" fill="none" stroke="#ff0000" stroke-width="4.3" stroke-linecap="round" stroke-linejoin="round"/>
<g fill="none" stroke="#333" stroke-width="1.0"><circle cx="312.6" cy="1469.7" r="4.3"/></g>
<line x1="270.80" y1="1515.30" x2="352.30" y2="1515.30" stroke="#ff0000" stroke-width="4.2" stroke-linecap="round"/>
<text x="363.80" y="1479.60" font-family='"Liberation Sans", Arial, Helvetica, sans-serif' font-size="36.7" text-anchor="start" stroke="#000" stroke-width="0.5" >Test data</text>
<text x="363.80" y="1525.20" font-family='"Liberation Sans", Arial, Helvetica, sans-serif' font-size="36.7" text-anchor="start" stroke="#000" stroke-width="0.5" >Fitted curve</text>
</svg>
</body></html>
